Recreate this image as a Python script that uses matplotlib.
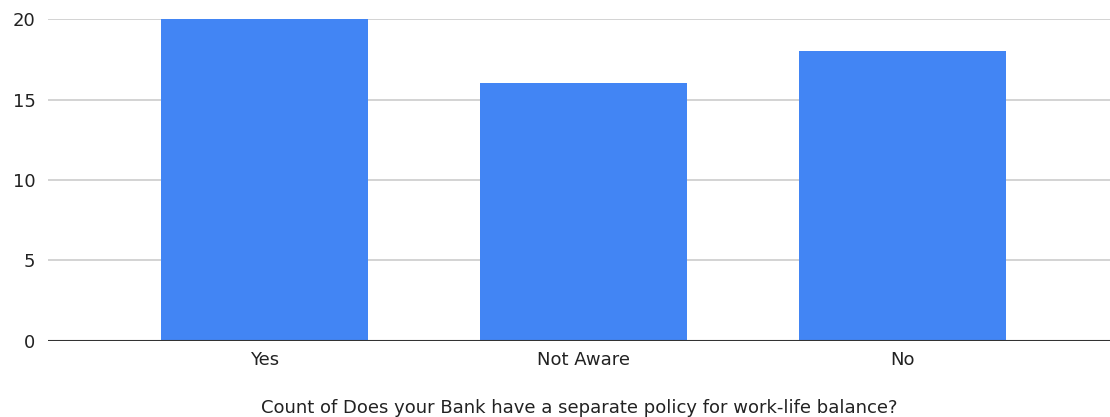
import matplotlib.pyplot as plt

categories = ['Yes', 'Not Aware', 'No']
counts = [20, 16, 18]
yticks = [0, 5, 10, 15, 20]
xlabel = 'Count of Does your Bank have a separate policy for work-life balance?'

plt.rcParams['font.family'] = ['DejaVu Sans']

fig = plt.figure(figsize=(11.1, 4.17), dpi=100)
ax = fig.add_axes([0.0432, 0.1823, 0.9568, 0.7721])

x = range(len(categories))
ax.bar(x, counts, width=0.65, color='#4285f4', zorder=3)

ax.set_xlim(-0.68, 2.65)
ax.set_ylim(0, 20)
ax.set_yticks(yticks)
ax.set_xticks(list(x))
ax.set_xticklabels(categories)

ax.grid(axis='y', color='#cccccc', linewidth=1.2, zorder=0)
ax.axhline(0, color='#333333', linewidth=1.5, zorder=4)
for s in ax.spines.values():
    s.set_visible(False)
ax.tick_params(axis='both', length=0, labelsize=13, labelcolor='#222222')
ax.tick_params(axis='y', pad=9)
ax.tick_params(axis='x', pad=7)

ax.set_xlabel(xlabel, fontsize=13, color='#222222', labelpad=22)

fig.savefig('out.png', dpi=100)
